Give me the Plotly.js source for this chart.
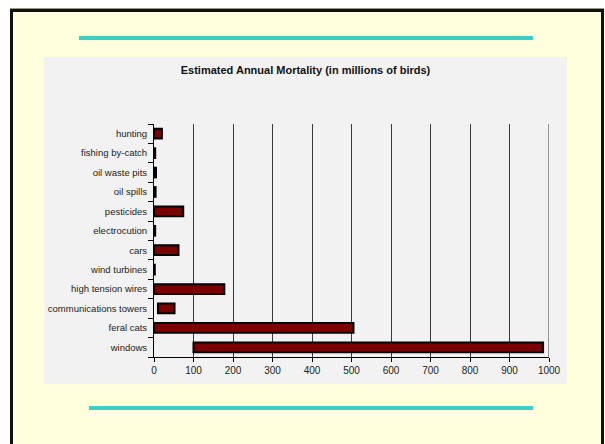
<!DOCTYPE html>
<html>
<head>
<meta charset="utf-8">
<script src="https://cdn.plot.ly/plotly-3.0.1.min.js"></script>
<style>
  html, body { margin:0; padding:0; background:#ffffff; width:605px; height:444px; overflow:hidden; }
  #frame { position:absolute; left:10px; top:9px; width:588px; height:450px; background:#FFFFDC;
           border-left:3px solid #111; border-right:3px solid #111; border-top:3px solid #111;
           box-shadow: 0 -1px 0 #9a9a80; }
  .teal { position:absolute; height:4px; background:#40CCC8; }
  #panel { position:absolute; left:44px; top:57px; width:523px; height:327px; background:#F2F2F2; }
  #chart { position:absolute; left:0; top:0; width:605px; height:444px; }
</style>
</head>
<body>
<div id="frame"></div>
<div class="teal" style="left:79px; top:36px; width:454px;"></div>
<div class="teal" style="left:89px; top:406px; width:444px;"></div>
<div id="panel"></div>
<div id="chart"></div>
<script>
// Categories listed bottom to top
const categories = ["windows", "feral cats", "communications towers", "high tension wires",
  "wind turbines", "cars", "electrocution", "pesticides", "oil spills", "oil waste pits",
  "fishing by-catch", "hunting"];
// Low end of each estimate (millions of birds)
const lowValues  = [100, 0, 10, 0, 0, 0, 0, 0, 0, 0, 0, 0];
// High end of each estimate (millions of birds)
const highValues = [985, 505, 52, 178, 2, 62, 3, 74, 4, 5, 3, 20];
const xTickValues = [0, 100, 200, 300, 400, 500, 600, 700, 800, 900, 1000];
const xMax = 1000;

const trace = {
  type: "bar",
  orientation: "h",
  y: categories,
  x: highValues.map((h, i) => h - lowValues[i]),
  base: lowValues,
  width: 0.5,
  marker: { color: "#7A0000", line: { color: "#000000", width: 2 } },
  hoverinfo: "skip"
};

const layout = {
  width: 605, height: 444,
  paper_bgcolor: "rgba(0,0,0,0)",
  plot_bgcolor: "rgba(0,0,0,0)",
  margin: { l: 154, r: 56, t: 124, b: 87, pad: 0 },
  showlegend: false,
  title: {
    text: "<b>Estimated Annual Mortality (in millions of birds)</b>",
    font: { family: "Liberation Sans, Arial, sans-serif", size: 11, color: "#111" },
    x: 0.505, xanchor: "center", y: 0.843, yanchor: "middle"
  },
  shapes: [{
    type: "line", xref: "x", yref: "paper", x0: xMax, x1: xMax, y0: 0, y1: 1,
    line: { color: "#3a3a3a", width: 1 }, layer: "below"
  }],
  xaxis: {
    range: [0, xMax],
    tickvals: xTickValues,
    ticktext: xTickValues.map(String),
    showgrid: true, gridcolor: "#3a3a3a", gridwidth: 1,
    zeroline: false,
    showline: true, linecolor: "#000", linewidth: 1,
    ticks: "outside", ticklen: 4, tickcolor: "#000",
    tickfont: { family: "Liberation Sans, Arial, sans-serif", size: 10, color: "#222" },
    fixedrange: true
  },
  yaxis: {
    type: "category",
    categoryorder: "array", categoryarray: categories,
    showline: true, linecolor: "#000", linewidth: 1,
    ticks: "outside", ticklen: 5, tickcolor: "#000",
    tickson: "boundaries",
    ticklabelstandoff: 4,
    showgrid: false, zeroline: false,
    tickfont: { family: "Liberation Sans, Arial, sans-serif", size: 9.5, color: "#222" },
    fixedrange: true
  }
};

Plotly.newPlot("chart", [trace], layout, { displayModeBar: false, staticPlot: true });
</script>
</body>
</html>
